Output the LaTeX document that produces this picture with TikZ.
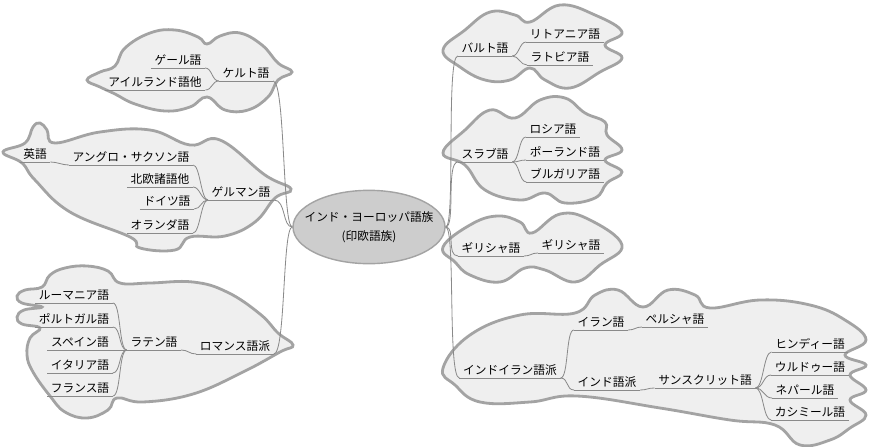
\documentclass[tikz,border=0pt]{standalone}
\usepackage{fontspec}
\setmainfont{Noto Sans CJK JP}
\usetikzlibrary{shapes.geometric}
\definecolor{cloudgray}{HTML}{EFEFEF}
\definecolor{rimgray}{HTML}{A3A3A3}
\definecolor{rootgray}{HTML}{CDCDCD}
\definecolor{linegray}{HTML}{8A8A8A}

\begin{document}
\begin{tikzpicture}[x=0.03cm, y=-0.03cm,
    cloud/.style={fill=cloudgray, draw=rimgray, line width=2.4pt},
    branch/.style={draw=linegray, line width=0.7pt},
    topic/.style={anchor=south, inner xsep=3pt, inner ysep=1.5pt, text height=8.5pt, text depth=1.5pt,
        font=\fontsize{10}{12}\selectfont,
        append after command={(\tikzlastnode.south west) edge[branch] (\tikzlastnode.south east)}}]
    \useasboundingbox (0,0) rectangle (870,446);

    % clouds
    \draw[cloud] plot[smooth cycle, tension=0.7] coordinates {(87,80) (100,72) (115,66) (125,48) (150,33) (175,30) (198,37) (207,44) (220,36) (240,33) (262,45) (278,63) (292,72) (278,80) (268,97) (248,110) (225,110) (207,97) (190,107) (165,111) (135,104) (115,94) (100,87)};
    \draw[cloud] plot[smooth cycle, tension=0.7] coordinates {(3,152) (25,143) (33,127) (40,123) (47,130) (55,143) (100,132) (150,130) (190,145) (220,140) (265,175) (291,189) (275,198) (255,222) (225,236) (190,237) (175,250) (140,248) (130,237) (70,212) (35,180) (22,163)};
    \draw[cloud] plot[smooth cycle, tension=0.7] coordinates {(17,296) (25,290) (42,287) (50,275) (65,268) (87,266) (108,271) (120,283) (150,283) (193,282) (227,292) (260,314) (278,333) (293,345) (280,352) (243,372) (193,394) (143,402) (117,398) (108,410) (87,418) (65,412) (50,396) (33,372) (27,355) (30,338) (40,328) (22,324) (17,317) (24,310) (42,307) (22,303)};
    \draw[cloud] plot[smooth cycle, tension=0.7] coordinates {(443,50) (465,30) (490,12) (515,15) (530,22) (560,5) (595,15) (622,32) (605,45) (622,58) (600,72) (570,88) (545,80) (530,68) (510,80) (485,80) (460,67)};
    \draw[cloud] plot[smooth cycle, tension=0.7] coordinates {(443,153) (465,130) (490,110) (515,118) (540,100) (565,98) (585,113) (605,122) (607,135) (622,150) (605,160) (622,172) (607,183) (595,198) (565,203) (545,193) (520,200) (485,190) (465,165)};
    \draw[cloud] plot[smooth cycle, tension=0.7] coordinates {(443,247) (470,225) (497,216) (520,222) (532,233) (560,214) (590,220) (622,245) (600,265) (575,282) (545,270) (525,268) (500,282) (470,275) (455,262)};
    \draw[cloud] plot[smooth cycle, tension=0.7] coordinates {(443,368) (470,335) (520,315) (575,313) (595,295) (618,290) (643,307) (668,290) (695,295) (710,308) (760,300) (810,305) (845,320) (866,340) (845,355) (866,365) (850,375) (866,390) (850,400) (866,415) (850,428) (830,440) (800,445) (775,425) (730,420) (660,408) (577,396) (530,402) (480,402) (455,385)};

    \node[ellipse, draw=rimgray, fill=rootgray, line width=1.2pt, inner sep=0pt, minimum width=4.56cm, minimum height=2.2cm] (root) at (369,227)
        {\makebox[0pt]{\fontsize{10}{17}\selectfont\begin{tabular}{@{}c@{}}インド・ヨーロッパ語族\\(印欧語族)\end{tabular}}};

    % left side
    \node[topic] (celt) at (246,81) {ケルト語};
    \node[topic] (gael) at (178,68) {ゲール語};
    \node[topic] (irish) at (155,90) {アイルランド語他};
    \node[topic] (germ) at (241,200) {ゲルマン語};
    \node[topic] (english) at (35,162) {英語};
    \node[topic] (anglo) at (131,165) {アングロ・サクソン語};
    \node[topic] (norse) at (160,187) {北欧諸語他};
    \node[topic] (german) at (167,209) {ドイツ語};
    \node[topic] (dutch) at (160,233) {オランダ語};
    \node[topic] (romance) at (235,354) {ロマンス語派};
    \node[topic] (latin) at (154,350) {ラテン語};
    \node[topic] (romanian) at (74,303) {ルーマニア語};
    \node[topic] (portug) at (74,327) {ポルトガル語};
    \node[topic] (spanish) at (80,350) {スペイン語};
    \node[topic] (italian) at (80,373) {イタリア語};
    \node[topic] (french) at (80,396) {フランス語};

    % right side
    \node[topic] (balt) at (485,56) {バルト語};
    \node[topic] (lithu) at (565,42) {リトアニア語};
    \node[topic] (latvian) at (560,65) {ラトビア語};
    \node[topic] (slav) at (485,162) {スラブ語};
    \node[topic] (russian) at (553,137) {ロシア語};
    \node[topic] (polish) at (565,160) {ポーランド語};
    \node[topic] (bulgar) at (565,182) {ブルガリア語};
    \node[topic] (greekbr) at (491,256) {ギリシャ語};
    \node[topic] (greek) at (571,253) {ギリシャ語};
    \node[topic] (indoir) at (510,378) {インドイラン語派};
    \node[topic] (iranian) at (601,330) {イラン語};
    \node[topic] (persian) at (675,327) {ペルシャ語};
    \node[topic] (indic) at (607,390) {インド語派};
    \node[topic] (sanskrit) at (705,388) {サンスクリット語};
    \node[topic] (hindi) at (810,352) {ヒンディー語};
    \node[topic] (urdu) at (810,375) {ウルドゥー語};
    \node[topic] (nepali) at (805,398) {ネパール語};
    \node[topic] (kashmiri) at (810,420) {カシミール語};

    % branches
    \draw[branch] (root.west) .. controls +(-10,0) and +(12,0) .. (celt.south east);
    \draw[branch] (root.west) .. controls +(-10,0) and +(12,0) .. (germ.south east);
    \draw[branch] (root.west) .. controls +(-10,0) and +(12,0) .. (romance.south east);
    \draw[branch] (gael.south east) .. controls +(7,0) and +(-7,0) .. (celt.south west);
    \draw[branch] (irish.south east) .. controls +(7,0) and +(-7,0) .. (celt.south west);
    \draw[branch] (english.south east) .. controls +(7,0) and +(-7,0) .. (anglo.south west);
    \draw[branch] (anglo.south east) .. controls +(7,0) and +(-7,0) .. (germ.south west);
    \draw[branch] (norse.south east) .. controls +(7,0) and +(-7,0) .. (germ.south west);
    \draw[branch] (german.south east) .. controls +(7,0) and +(-7,0) .. (germ.south west);
    \draw[branch] (dutch.south east) .. controls +(7,0) and +(-7,0) .. (germ.south west);
    \draw[branch] (romanian.south east) .. controls +(8,0) and +(-8,0) .. (latin.south west);
    \draw[branch] (portug.south east) .. controls +(8,0) and +(-8,0) .. (latin.south west);
    \draw[branch] (spanish.south east) .. controls +(8,0) and +(-8,0) .. (latin.south west);
    \draw[branch] (italian.south east) .. controls +(8,0) and +(-8,0) .. (latin.south west);
    \draw[branch] (french.south east) .. controls +(8,0) and +(-8,0) .. (latin.south west);
    \draw[branch] (latin.south east) .. controls +(7,0) and +(-7,0) .. (romance.south west);

    \draw[branch] (root.east) .. controls +(10,0) and +(-12,0) .. (balt.south west);
    \draw[branch] (root.east) .. controls +(10,0) and +(-12,0) .. (slav.south west);
    \draw[branch] (root.east) .. controls +(10,0) and +(-12,0) .. (greekbr.south west);
    \draw[branch] (root.east) .. controls +(10,0) and +(-12,0) .. (indoir.south west);
    \draw[branch] (balt.south east) .. controls +(7,0) and +(-7,0) .. (lithu.south west);
    \draw[branch] (balt.south east) .. controls +(7,0) and +(-7,0) .. (latvian.south west);
    \draw[branch] (slav.south east) .. controls +(7,0) and +(-7,0) .. (russian.south west);
    \draw[branch] (slav.south east) .. controls +(7,0) and +(-7,0) .. (polish.south west);
    \draw[branch] (slav.south east) .. controls +(7,0) and +(-7,0) .. (bulgar.south west);
    \draw[branch] (greekbr.south east) .. controls +(7,0) and +(-7,0) .. (greek.south west);
    \draw[branch] (indoir.south east) .. controls +(8,0) and +(-8,0) .. (iranian.south west);
    \draw[branch] (indoir.south east) .. controls +(8,0) and +(-8,0) .. (indic.south west);
    \draw[branch] (iranian.south east) .. controls +(7,0) and +(-7,0) .. (persian.south west);
    \draw[branch] (indic.south east) .. controls +(7,0) and +(-7,0) .. (sanskrit.south west);
    \draw[branch] (sanskrit.south east) .. controls +(8,0) and +(-8,0) .. (hindi.south west);
    \draw[branch] (sanskrit.south east) .. controls +(8,0) and +(-8,0) .. (urdu.south west);
    \draw[branch] (sanskrit.south east) .. controls +(8,0) and +(-8,0) .. (nepali.south west);
    \draw[branch] (sanskrit.south east) .. controls +(8,0) and +(-8,0) .. (kashmiri.south west);
\end{tikzpicture}
\end{document}
